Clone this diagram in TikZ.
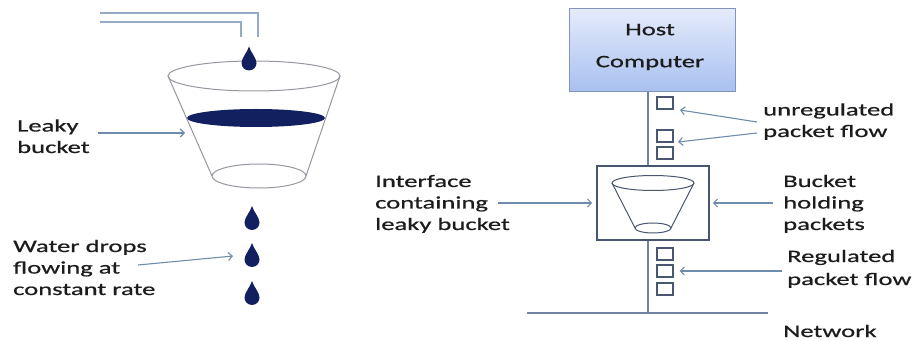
\documentclass[tikz,border=0pt]{standalone}
\usepackage{fontspec}
\setmainfont{Carlito}[FakeStretch=1.52,FakeBold=0.7]
\usetikzlibrary{arrows.meta}

\definecolor{water}{RGB}{18,32,95}
\definecolor{txt}{RGB}{28,28,28}
\definecolor{arrowc}{RGB}{112,140,172}
\definecolor{pipec}{RGB}{150,170,196}
\definecolor{cupc}{RGB}{150,150,160}
\definecolor{wirec}{RGB}{112,130,160}
\definecolor{boxc}{RGB}{72,86,112}
\definecolor{hostc}{RGB}{128,148,188}
\definecolor{hosttop}{RGB}{228,235,251}
\definecolor{hostbot}{RGB}{168,192,240}

\tikzset{
  lbl/.style={anchor=base west, inner sep=0pt, align=left, text=txt, font=\fontsize{17.5}{21.5}\selectfont},
  pointer/.style={draw=arrowc, line width=1.1pt, -{Straight Barb[length=4pt,width=8pt]}},
  pkt/.style={draw=boxc, line width=1.3pt, minimum width=16pt, minimum height=12pt, inner sep=0pt},
  wire/.style={draw=wirec, line width=1.2pt},
  waterdrop/.pic={\fill[water] (0,16.5) .. controls (1.5,11) and (7.5,5) .. (7.5,0)
      arc[start angle=0, end angle=-180, radius=7.5] .. controls (-7.5,5) and (-1.5,11) .. (0,16.5) -- cycle;}
}

\begin{document}
\begin{tikzpicture}[x=1pt,y=1pt]
\useasboundingbox (0,0) rectangle (912,340);
% tap and leaky bucket
\draw[pipec, line width=1.1pt] (100,327) -- (258,327) -- (258,303);
\draw[pipec, line width=1.1pt] (100,318) -- (241,318) -- (241,303);
\draw[cupc, line width=1pt] (254,264) ellipse [x radius=86, y radius=15];
\fill[water] (256,222) ellipse [x radius=69, y radius=9];
\draw[cupc, line width=1pt] (259,164) ellipse [x radius=47, y radius=12];
\draw[cupc, line width=1pt] (168,264) -- (212,164) (340,264) -- (306,164);
\pic at (249,277) {waterdrop};
\foreach \y in {117.5,80.5,42.5} \pic at (252,\y) {waterdrop};
\node[lbl] (leaky) at (17,187) {Leaky\\bucket};
\node[lbl] (drops) at (13,45) {Water drops\\flowing at\\constant rate};
\coordinate (leakyfrom) at (98,207); \coordinate (leakyto) at (185,207);
\coordinate (dropsfrom) at (138,75); \coordinate (dropsto) at (233,84);
\draw[pointer] (leakyfrom) -- (leakyto);
\draw[pointer] (dropsfrom) -- (dropsto);

% host, interface and network
\node[draw=hostc, line width=1pt, top color=hosttop, bottom color=hostbot, minimum width=166pt, minimum height=83pt] (host) at (652,289.5) {};
\node[align=center, text=txt, font=\fontsize{17.5}{32}\selectfont] (hostname) at (650,293) {Host\\Computer};
\node[draw=boxc, line width=1.6pt, minimum width=112pt, minimum height=74pt] (iface) at (653,137) {};
\coordinate (tap) at (648,27);
\coordinate (netL) at (527,27); \coordinate (netR) at (768,27);
\draw[wire] (host.south -| tap) -- (iface.north -| tap);
\draw[wire] (iface.south -| tap) -- (tap);
\draw[wire] (netL) -- (netR);
\draw[boxc, line width=1pt] (653,157) ellipse [x radius=41, y radius=7.5];
\draw[boxc, line width=1pt] (653,112) ellipse [x radius=18, y radius=5];
\draw[boxc, line width=1pt] (612,157) -- (635,112) (694,157) -- (671,112);
\node[pkt] (u1) at (665,237) {};
\node[pkt] (u2) at (665,204) {};
\node[pkt] (u3) at (665,187) {};
\node[pkt] (r1) at (665,86) {};
\node[pkt] (r2) at (665,69) {};
\node[pkt] (r3) at (665,51) {};

\node[lbl] (unreg) at (763,203) {unregulated\\packet flow};
\node[lbl] (iftext) at (375,110) {Interface\\containing\\leaky bucket};
\node[lbl] (holding) at (783,110) {Bucket\\holding\\packets};
\node[lbl, font=\fontsize{17.5}{23}\selectfont] (reg) at (787,55) {Regulated\\packet flow};
\node[lbl] (net) at (783,3) {Network};
\coordinate (unregA) at (757,218); \coordinate (unregB) at (757,207);
\coordinate (ifacefrom) at (498,137); \coordinate (holdfrom) at (773,137);
\coordinate (regfrom) at (782,69);
\draw[pointer] (unregA) -- (680,230);
\draw[pointer] (unregB) -- (678,198);
\draw[pointer, shorten >=4pt] (ifacefrom) -- (iface.west);
\draw[pointer, shorten >=3pt] (holdfrom) -- (iface.east);
\draw[pointer, shorten >=6pt] (regfrom) -- (r2.east);
\end{tikzpicture}
\end{document}
